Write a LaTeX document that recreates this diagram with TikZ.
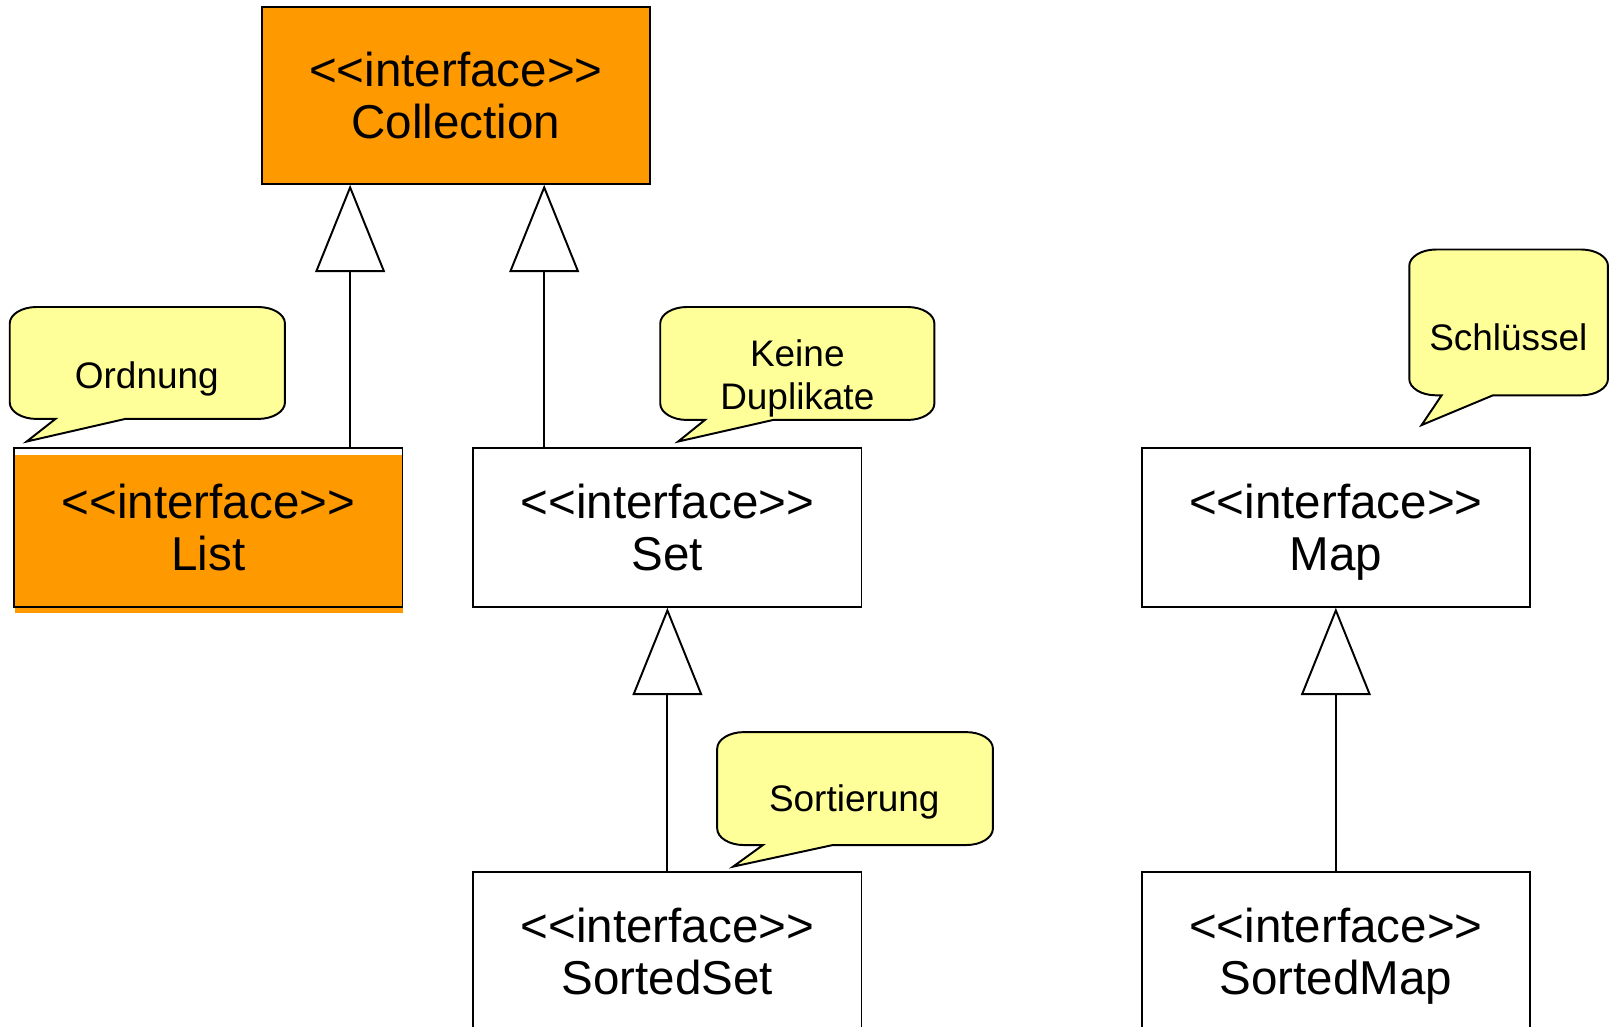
\documentclass[tikz,border=0pt]{standalone}
\usepackage{fontspec}
\setmainfont{Liberation Sans}
\usetikzlibrary{arrows.meta}
\definecolor{umlorange}{HTML}{FF9900}
\definecolor{noteyellow}{HTML}{FFFF99}
\newcommand\ltlt{<\kern0pt<}
\newcommand\gtgt{>\kern0pt>}
\def\crx{26}
\def\cry{16}
% L, T, R, B, tail start x, tip x, tip y, tail end x
\newcommand\notebubble[8]{%
  \filldraw[notebody] (#1,#2+\cry) .. controls (#1,#2+0.45*\cry) and (#1+0.45*\crx,#2) .. (#1+\crx,#2)
  -- (#3-\crx,#2) .. controls (#3-0.45*\crx,#2) and (#3,#2+0.45*\cry) .. (#3,#2+\cry)
  -- (#3,#4-\cry) .. controls (#3,#4-0.45*\cry) and (#3-0.45*\crx,#4) .. (#3-\crx,#4)
  -- (#8,#4) -- (#6,#7) -- (#5,#4)
  -- (#1+\crx,#4) .. controls (#1+0.45*\crx,#4) and (#1,#4-0.45*\cry) .. (#1,#4-\cry) -- cycle;}
\begin{document}
\begin{tikzpicture}[x=1pt,y=-1pt,
  iface/.style={draw, line width=1.9pt, minimum width=378pt, minimum height=155pt,
    align=center, inner sep=0pt, font=\fontsize{46.3}{51}\selectfont},
  notebody/.style={draw, fill=noteyellow, line width=1.9pt},
  notetext/.style={anchor=base, inner sep=0pt, font=\fontsize{36}{42}\selectfont},
  inh/.style={line width=1.9pt, -{Triangle[open, length=85pt, width=68pt]}}]
\useasboundingbox (0,0) rectangle (1568,1000);
\clip (0,0) rectangle (1568,1000);
% boxes
\node[iface, fill=umlorange, minimum height=172pt] (coll) at (444,93) {\ltlt interface\gtgt\\Collection};
\fill[umlorange] (14.6,443) rectangle (392,597);
\node[iface] (list) at (203,513.5) {\ltlt interface\gtgt\\List};
\node[iface] (set) at (650,513.5) {\ltlt interface\gtgt\\Set};
\node[iface] (map) at (1301,513.5) {\ltlt interface\gtgt\\\smash{Map}};
\node[iface] (sset) at (650,926.5) {\ltlt interface\gtgt\\SortedSet};
\node[iface] (smap) at (1301,926.5) {\ltlt interface\gtgt\\\smash{SortedMap}};
% inheritance
\coordinate (xa) at (341,0);
\coordinate (xb) at (530,0);
\draw[inh] (list.north -| xa) -- (coll.south -| xa);
\draw[inh] (set.north -| xb) -- (coll.south -| xb);
\draw[inh] (sset.north) -- (set.south);
\draw[inh] (smap.north) -- (map.south);
% notes
\notebubble{9.5}{299}{277.5}{408}{54}{26}{430}{122}
\node[notetext] (ordnung) at (143,378) {Ordnung};
\notebubble{643}{299}{910}{409}{686.5}{660.5}{430}{753}
\node[notetext] (keine) at (776.5,357) {Keine};
\node[notetext] (dupl) at (776.5,399) {Duplikate};
\notebubble{1372.5}{243}{1566}{385}{1404}{1384.5}{414}{1454}
\node[notetext] (schl) at (1469,341) {Schlüssel};
\notebubble{698.5}{713}{967}{823}{743}{714}{844}{811}
\node[notetext] (sort) at (832,790) {Sortierung};
\end{tikzpicture}
\end{document}
